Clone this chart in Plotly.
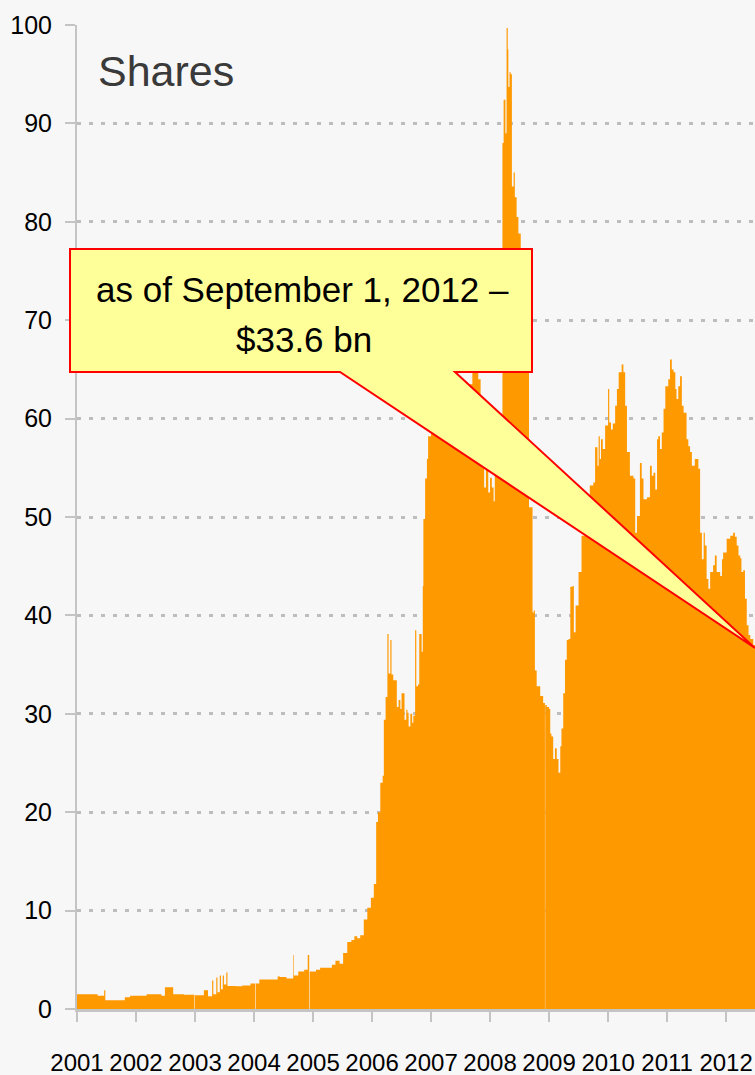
import plotly.graph_objects as go

# ---- data (decimal year, value in $ bn) ----
yrs = [2001.00, 2001.35, 2001.46, 2001.48, 2001.81, 2001.90, 2002.18, 2002.43, 2002.49, 2002.63,
       2002.81, 2002.99, 2003.00, 2003.15, 2003.22, 2003.29, 2003.31, 2003.36, 2003.38, 2003.42,
       2003.44, 2003.47, 2003.49, 2003.53, 2003.55, 2003.70, 2003.80, 2003.94, 2004.02, 2004.03,
       2004.09, 2004.40, 2004.44, 2004.55, 2004.665, 2004.675, 2004.75, 2004.85, 2004.91, 2004.935,
       2004.945, 2005.05, 2005.12, 2005.32, 2005.38, 2005.45, 2005.51, 2005.58, 2005.65, 2005.70,
       2005.75, 2005.80, 2005.86, 2005.92, 2005.98, 2006.03, 2006.07, 2006.10, 2006.14, 2006.18,
       2006.20, 2006.23, 2006.26, 2006.28, 2006.31, 2006.33, 2006.36, 2006.42, 2006.45, 2006.48,
       2006.50, 2006.55, 2006.58, 2006.60, 2006.62, 2006.65, 2006.68, 2006.70, 2006.73, 2006.75,
       2006.78, 2006.80, 2006.84, 2006.86, 2006.87, 2006.90, 2006.93, 2006.95, 2007.00, 2007.15,
       2007.30, 2007.45, 2007.60, 2007.70, 2007.80, 2007.84, 2007.86, 2007.90, 2007.93, 2007.97,
       2008.00, 2008.03, 2008.06, 2008.08, 2008.11, 2008.17, 2008.21, 2008.23, 2008.26, 2008.28,
       2008.30, 2008.31, 2008.33, 2008.35, 2008.37, 2008.40, 2008.42, 2008.45, 2008.48, 2008.52,
       2008.58, 2008.63, 2008.66, 2008.72, 2008.74, 2008.76, 2008.79, 2008.85, 2008.90, 2008.93,
       2008.935, 2008.96, 2009.00, 2009.02, 2009.04, 2009.07, 2009.10, 2009.13, 2009.16, 2009.19,
       2009.21, 2009.24, 2009.27, 2009.30, 2009.33, 2009.36, 2009.40, 2009.42, 2009.45, 2009.50,
       2009.55, 2009.65, 2009.69, 2009.75, 2009.78, 2009.82, 2009.84, 2009.86, 2009.88, 2009.91,
       2009.95, 2010.00, 2010.02, 2010.05, 2010.08, 2010.12, 2010.15, 2010.18, 2010.23, 2010.26,
       2010.29, 2010.32, 2010.37, 2010.43, 2010.46, 2010.49, 2010.54, 2010.57, 2010.60, 2010.66,
       2010.71, 2010.74, 2010.77, 2010.80, 2010.83, 2010.85, 2010.88, 2010.91, 2010.94, 2010.97,
       2011.02, 2011.05, 2011.08, 2011.11, 2011.14, 2011.16, 2011.19, 2011.22, 2011.25, 2011.28,
       2011.33, 2011.36, 2011.39, 2011.42, 2011.47, 2011.53, 2011.56, 2011.59, 2011.62, 2011.64,
       2011.67, 2011.70, 2011.73, 2011.78, 2011.81, 2011.84, 2011.90, 2011.93, 2011.95, 2012.01,
       2012.07, 2012.12, 2012.15, 2012.18, 2012.21, 2012.24, 2012.26, 2012.29, 2012.32, 2012.35,
       2012.38, 2012.41, 2012.46, 2012.49, 2012.58, 2012.67]

vals = [1.5, 1.35, 1.9, 0.9, 1.2, 1.35, 1.5, 1.35, 2.2, 1.5,
        1.45, 0.0, 1.4, 1.9, 1.3, 2.9, 1.5, 3.2, 1.7, 3.4,
        2.0, 3.4, 2.5, 3.7, 2.35, 2.3, 2.4, 2.6, 0.0, 2.6,
        3.0, 3.3, 3.25, 3.1, 5.5, 3.4, 3.8, 4.0, 5.5, 0.0,
        3.8, 4.0, 4.2, 4.5, 4.9, 4.6, 5.7, 6.8, 7.0, 7.4,
        7.2, 7.5, 9.1, 10.3, 11.3, 12.7, 19.0, 20.0, 23.0, 23.7,
        29.4, 31.7, 38.1, 34.1, 37.5, 34.0, 33.4, 30.7, 31.4, 30.5,
        32.1, 29.4, 30.4, 30.1, 28.7, 30.0, 29.1, 29.8, 38.5, 32.8,
        33.0, 38.1, 36.3, 43.0, 49.8, 53.9, 55.9, 58.2, 58.6, 60.0,
        61.0, 62.0, 63.5, 65.5, 64.0, 58.0, 55.0, 53.0, 55.0, 52.5,
        54.0, 53.0, 51.6, 55.0, 57.0, 60.0, 88.0, 92.4, 89.0, 99.7,
        97.5, 93.7, 95.2, 95.0, 83.6, 85.0, 82.5, 80.5, 78.8, 75.0,
        70.0, 66.0, 51.0, 40.3, 40.5, 34.4, 32.8, 31.8, 31.1, 0.0,
        30.9, 30.7, 30.5, 28.0, 27.7, 25.4, 26.5, 25.4, 24.0, 26.7,
        28.5, 32.1, 35.5, 37.5, 37.6, 42.9, 43.0, 38.3, 41.0, 44.4,
        48.1, 48.5, 53.2, 53.5, 57.1, 55.2, 58.2, 55.9, 57.9, 56.9,
        59.3, 63.0, 59.6, 58.9, 59.5, 61.3, 63.0, 64.7, 65.5, 64.7,
        61.3, 56.6, 54.2, 53.9, 48.4, 50.1, 55.5, 53.9, 51.8, 52.0,
        55.2, 54.2, 54.5, 52.8, 57.9, 58.2, 56.9, 58.6, 61.0, 63.3,
        64.0, 66.0, 65.0, 64.7, 63.0, 62.0, 63.3, 64.3, 61.3, 60.6,
        57.9, 57.2, 56.6, 55.2, 55.9, 54.9, 48.4, 45.7, 48.4, 47.1,
        43.7, 42.7, 44.4, 45.1, 46.1, 44.4, 44.0, 45.7, 46.4, 47.8,
        48.1, 48.4, 48.0, 47.1, 46.1, 45.8, 44.4, 44.6, 41.7, 39.0,
        38.0, 37.6, 37.0, 36.6, 35.0, 33.6]

tick_years = [2001, 2002, 2003, 2004, 2005, 2006, 2007, 2008, 2009, 2010, 2011, 2012]
tick_labels = ["2001", "2002", "2003", "2004", "2005", "2006", "2007", "2008",
               "2009", "2010", "2011", "2012"]
y_ticks = [0, 10, 20, 30, 40, 50, 60, 70, 80, 90, 100]

title_text = "Shares"
callout_line1 = "as of September 1, 2012 –"
callout_line2 = "$33.6 bn"

# ---- layout geometry (pixels) ----
W, H = 755, 1075
L, R, T, B = 77, 755, 25, 1009


def px(x):
    return (x - L) / (R - L)


def py(y):
    return (B - y) / (B - T)


FONT = "Liberation Sans, Arial, sans-serif"

fig = go.Figure(
    go.Scatter(
        x=yrs, y=vals, mode="lines",
        line=dict(width=0, shape="hv", color="#FF9900"),
        fill="tozeroy", fillcolor="#FF9900", hoverinfo="skip",
    )
)

callout = [(70, 249), (532, 249), (532, 372), (455, 372), (755, 648), (340, 372), (70, 372)]
path = "M " + " L ".join(f"{px(x):.5f},{py(y):.5f}" for x, y in callout) + " Z"

fig.update_layout(
    width=W, height=H,
    margin=dict(l=L, r=W - R, t=T, b=H - B, pad=0, autoexpand=False),
    paper_bgcolor="#f7f7f7", plot_bgcolor="#f7f7f7",
    showlegend=False,
    font=dict(family=FONT, size=25, color="#000000"),
    xaxis=dict(
        range=[2001, 2012.49], tickvals=tick_years, ticktext=tick_labels,
        ticks="outside", ticklen=10, tickwidth=2, tickcolor="#c4c4c4",
        showline=True, linecolor="#c4c4c4", linewidth=3,
        showgrid=False, zeroline=False, ticklabelstandoff=20, tickangle=0,
        automargin=False,
        tickfont=dict(family=FONT, size=24, color="#000000"),
    ),
    yaxis=dict(
        range=[0, 100], tickvals=y_ticks,
        ticks="outside", ticklen=10, tickwidth=2, tickcolor="#c4c4c4",
        showline=True, linecolor="#c4c4c4", linewidth=2,
        showgrid=True, gridcolor="#bdbdbd", gridwidth=3, griddash="4px,8px",
        zeroline=False, ticklabelstandoff=8, automargin=False,
        tickfont=dict(family=FONT, size=25, color="#000000"),
    ),
    shapes=[
        dict(type="path", xref="paper", yref="paper", path=path,
             fillcolor="#ffff99", line=dict(color="#ff0000", width=2), layer="above"),
    ],
    annotations=[
        dict(text=title_text, xref="paper", yref="paper", x=px(96), y=py(45),
             xanchor="left", yanchor="top", showarrow=False,
             font=dict(family=FONT, size=43, color="#3a3a3a")),
        dict(text=callout_line1, xref="paper", yref="paper", x=px(302), y=py(289),
             xanchor="center", yanchor="middle", showarrow=False,
             font=dict(family=FONT, size=35, color="#000000")),
        dict(text=callout_line2, xref="paper", yref="paper", x=px(304), y=py(340),
             xanchor="center", yanchor="middle", showarrow=False,
             font=dict(family=FONT, size=35, color="#000000")),
    ],
)

fig.write_html(
    "out.html",
    config={"displayModeBar": False},
    post_script="document.body.style.margin='0px';document.body.style.overflow='hidden';",
)
